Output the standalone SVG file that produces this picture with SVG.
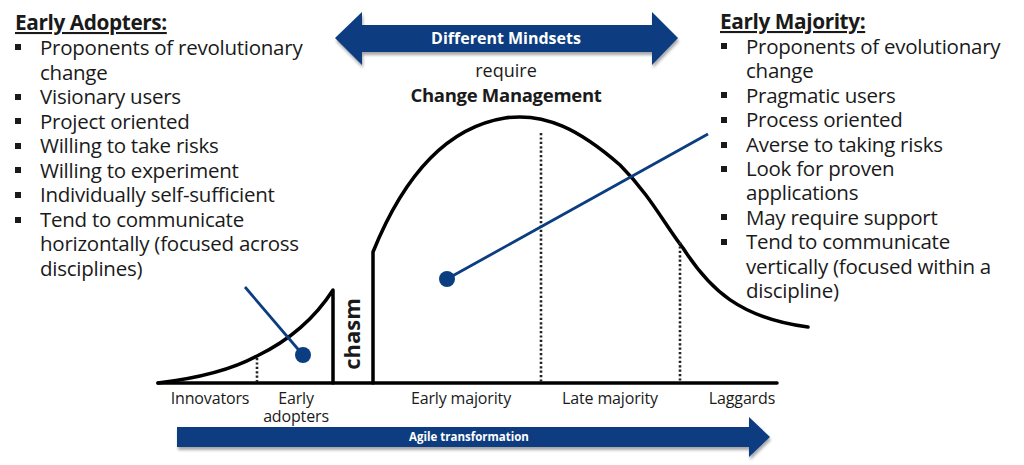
<svg xmlns="http://www.w3.org/2000/svg" width="1024" height="465" viewBox="0 0 1024 465">
<defs>
<style>
.t{font-family:"Open Sans","Liberation Sans",sans-serif;fill:#1a1a1a}
.li{font-size:20.5px;letter-spacing:-0.25px}
.hd{font-size:20.8px;font-weight:bold;text-decoration:underline;letter-spacing:-0.4px}
.lb{font-size:16px;letter-spacing:-0.15px}
.w{fill:#fff;font-weight:bold}
.bl{fill:#0b3e80}
.ink{fill:none;stroke:#000;stroke-width:3.5;stroke-linecap:round;stroke-linejoin:round}
.dot{fill:none;stroke:#222;stroke-width:2.6;stroke-dasharray:2.2 2.2}
.ptr{stroke:#0b3e80;stroke-width:2.8;fill:none}
</style>
<filter id="sh" x="-5%" y="-20%" width="110%" height="160%">
<feGaussianBlur in="SourceAlpha" stdDeviation="1.5"/>
<feOffset dx="1" dy="3" result="b"/>
<feComponentTransfer><feFuncA type="linear" slope="0.35"/></feComponentTransfer>
<feMerge><feMergeNode/><feMergeNode in="SourceGraphic"/></feMerge>
</filter>
</defs>

<g id="early-adopters-list" class="t">
<text x="15" y="30" class="t hd">Early Adopters:</text>
<g fill="#1a1a1a">
<rect x="15" y="44" width="6" height="6"/>
<rect x="15" y="94" width="6" height="6"/>
<rect x="15" y="118" width="6" height="6"/>
<rect x="15" y="143" width="6" height="6"/>
<rect x="15" y="167" width="6" height="6"/>
<rect x="15" y="192" width="6" height="6"/>
<rect x="15" y="217" width="6" height="6"/>
</g>
<text class="t li" x="40" y="55">Proponents of revolutionary</text>
<text class="t li" x="40" y="80">change</text>
<text class="t li" x="40" y="104">Visionary users</text>
<text class="t li" x="40" y="129">Project oriented</text>
<text class="t li" x="40" y="153">Willing to take risks</text>
<text class="t li" x="40" y="178">Willing to experiment</text>
<text class="t li" x="40" y="202">Individually self-sufficient</text>
<text class="t li" x="40" y="227">Tend to communicate</text>
<text class="t li" x="40" y="251">horizontally (focused across</text>
<text class="t li" x="40" y="276">disciplines)</text>
</g>

<g id="early-majority-list" class="t">
<text x="720" y="29" class="t hd">Early Majority:</text>
<g fill="#1a1a1a">
<rect x="721" y="43" width="6" height="6"/>
<rect x="721" y="92" width="6" height="6"/>
<rect x="721" y="117" width="6" height="6"/>
<rect x="721" y="142" width="6" height="6"/>
<rect x="721" y="166" width="6" height="6"/>
<rect x="721" y="214" width="6" height="6"/>
<rect x="721" y="239" width="6" height="6"/>
</g>
<text class="t li" x="746" y="54">Proponents of evolutionary</text>
<text class="t li" x="746" y="78">change</text>
<text class="t li" x="746" y="103">Pragmatic users</text>
<text class="t li" x="746" y="127">Process oriented</text>
<text class="t li" x="746" y="152">Averse to taking risks</text>
<text class="t li" x="746" y="176">Look for proven</text>
<text class="t li" x="746" y="200">applications</text>
<text class="t li" x="746" y="225">May require support</text>
<text class="t li" x="746" y="249">Tend to communicate</text>
<text class="t li" x="746" y="274">vertically (focused within a</text>
<text class="t li" x="746" y="298">discipline)</text>
</g>

<g id="mindsets-arrow">
<path class="bl" filter="url(#sh)" d="M335,38 L362,12 L362,25 L652,25 L652,12 L678,38 L652,65 L652,52 L362,52 L362,65 Z"/>
<text class="t w" x="506" y="44" font-size="16" text-anchor="middle">Different Mindsets</text>
</g>

<g id="change-management">
<text class="t" x="506" y="77" font-size="18" text-anchor="middle">require</text>
<text class="t" x="506" y="102" font-size="18.5" font-weight="bold" text-anchor="middle" letter-spacing="-0.3">Change Management</text>
</g>

<g id="adoption-curve">
<path class="ink" d="M158,383 C200,378 235,368 257,356 C290,340 315,318 333,290 L333,383"/>
<path class="ink" d="M373,383 L373,252 C392,205 430,130 505,118 C545,112 580,130 620,165 C650,195 665,225 683,248 C710,290 740,318 808,327"/>
<line class="ink" x1="158" y1="383" x2="777" y2="383"/>
<line class="dot" x1="257" y1="358" x2="257" y2="382"/>
<line class="dot" x1="541" y1="133" x2="541" y2="382"/>
<line class="dot" x1="680" y1="242" x2="680" y2="382"/>
<text class="t" font-size="22" font-weight="bold" text-anchor="middle" transform="translate(360,334) rotate(-90)">chasm</text>
</g>

<g id="segment-labels" class="t">
<text class="t lb" x="210" y="404" text-anchor="middle">Innovators</text>
<text class="t lb" x="296" y="404" text-anchor="middle">Early</text>
<text class="t lb" x="296" y="422" text-anchor="middle">adopters</text>
<text class="t lb" x="461" y="404" text-anchor="middle">Early majority</text>
<text class="t lb" x="610" y="404" text-anchor="middle">Late majority</text>
<text class="t lb" x="742" y="404" text-anchor="middle">Laggards</text>
</g>

<g id="connectors">
<line class="ptr" x1="245" y1="287" x2="303" y2="355"/>
<circle cx="303" cy="355" r="8" class="bl"/>
<line class="ptr" x1="447" y1="279" x2="708" y2="134"/>
<circle cx="447" cy="279" r="8" class="bl"/>
</g>

<g id="agile-arrow">
<path class="bl" filter="url(#sh)" d="M177,427 L749,427 L749,417 L770,437 L749,457 L749,447 L177,447 Z"/>
<text class="t w" x="469" y="441" font-size="11.5" font-weight="600" text-anchor="middle">Agile transformation</text>
</g>
</svg>
